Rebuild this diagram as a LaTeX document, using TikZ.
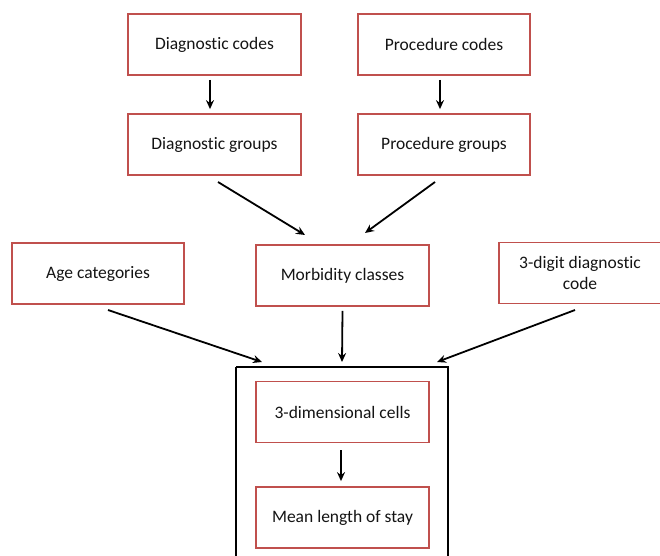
\documentclass[tikz,border=0pt]{standalone}
\usepackage{fontspec}
\setmainfont{Carlito}[Ligatures={NoCommon}]
\usetikzlibrary{arrows.meta}
\definecolor{boxred}{RGB}{192,80,77}
\definecolor{txt}{RGB}{20,20,20}
\begin{document}
\begin{tikzpicture}[x=1pt,y=-1pt,
  redbox/.style={draw=boxred,line width=1.8pt,fill=white,align=center,text=txt,font=\fontsize{17.5}{21}\selectfont},
  arr/.style={-{Stealth[length=9pt,width=8pt,inset=3pt]},line width=1.8pt}]
\useasboundingbox (0,0) rectangle (660,555);
\fill[white] (0,0) rectangle (660,555);
\draw[line width=1.8pt] (236,367) -- (236,560) (236,367) -- (448,367) -- (448,560);
\newcommand{\rbox}[5]{\node[redbox,minimum width=#3pt,minimum height=61pt,inner sep=0pt] (#1) at (#2) {#4};}
\rbox{dc}{214.5,44.5}{173}{Diagnostic codes}{}
\rbox{pc}{444,44.5}{172}{Procedure codes}{}
\rbox{dg}{214.5,144.5}{173}{Diagnostic groups}{}
\rbox{pg}{444,144.5}{172}{Procedure groups}{}
\rbox{age}{98,273.5}{172}{Age categories}{}
\rbox{mc}{342.5,275.5}{173}{Morbidity classes}{}
\rbox{dig}{580,273}{162}{3-digit diagnostic\\code}{}
\rbox{cells}{342.5,412}{173}{3-dimensional cells}{}
\rbox{mean}{342.5,517.5}{173}{Mean length of stay}{}
\coordinate (ta) at (262,362);
\coordinate (tm) at (342,362);
\coordinate (td) at (437,362);
\draw[arr] ([xshift=-4.5pt,yshift=-4pt]dc.south) -- ([xshift=-4.5pt,yshift=4pt]dg.north);
\draw[arr] ([xshift=-4pt,yshift=-4pt]pc.south) -- ([xshift=-4pt,yshift=4pt]pg.north);
\draw[arr] (218,182) -- (305,235);
\draw[arr] (435,182) -- (365,233);
\draw[arr] (108,310) -- (ta);
\draw[arr] ([yshift=-4pt]mc.south) -- (tm);
\draw[arr] (575,310) -- (td);
\draw[arr] ([xshift=-1.5pt,yshift=-7pt]cells.south) -- ([xshift=-1.5pt,yshift=5pt]mean.north);
\end{tikzpicture}
\end{document}
